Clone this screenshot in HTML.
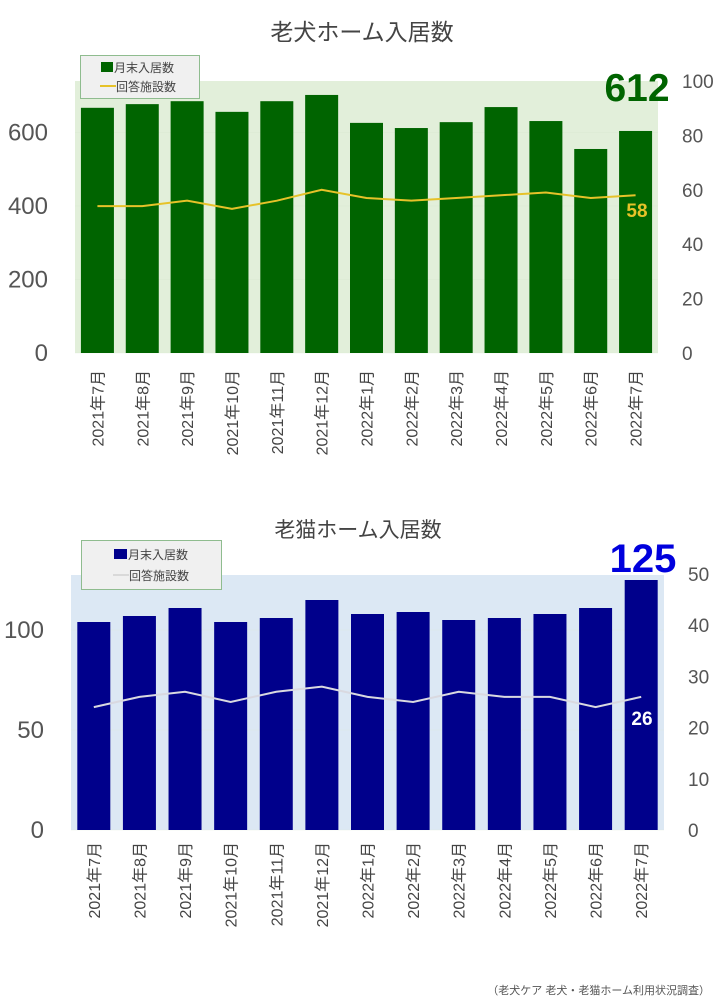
<!DOCTYPE html>
<html><head><meta charset="utf-8"><style>
body{margin:0;background:#fff;}
svg{display:block;font-family:"Liberation Sans","Noto Sans CJK JP",sans-serif;}
</style></head><body>
<svg id="s" width="720" height="1005" xmlns="http://www.w3.org/2000/svg"></svg>
<script>
const s=document.getElementById('s');let h='';
const labels=['2021年7月','2021年8月','2021年9月','2021年10月','2021年11月','2021年12月','2022年1月','2022年2月','2022年3月','2022年4月','2022年5月','2022年6月','2022年7月'];
function chart(o){
 const {x0,x1,yt,yb,sc,rs,bars,line,bg,bc,lc,ticks,rticks}=o;
 const cw=(x1-x0)/13;
 h+=`<rect x="${x0}" y="${yt}" width="${x1-x0}" height="${yb-yt}" fill="${bg}"/>`;
 ticks.forEach(t=>{const y=yb-t*sc;h+=`<line x1="${x0}" x2="${x1}" y1="${y}" y2="${y}" stroke="#d8e4d0" stroke-width="0.6" opacity="0.5"/><text x="${x0-27}" y="${y+8}" font-size="24" fill="#555" text-anchor="end">${t}</text>`;});
 rticks.forEach(t=>{const y=yb-t*rs;h+=`<text x="${x1+24}" y="${y+7}" font-size="19" fill="#555">${t}</text>`;});
 bars.forEach((v,i)=>{const cx=x0+cw*(i+0.5);h+=`<rect x="${cx-16.5}" y="${yb-v*sc}" width="33" height="${v*sc}" fill="${bc}"/>`;
  h+=`<text transform="translate(${cx+6},${o.ly}) rotate(-90)" font-size="16" fill="#444" text-anchor="end">${labels[i]}</text>`;});
 let p=line.map((v,i)=>`${x0+cw*(i+0.5)},${yb-v*rs}`).join(' ');
 h+=`<polyline points="${p}" fill="none" stroke="${lc}" stroke-width="2"/>`;
}
h+=`<text x="362" y="40" font-size="23" fill="#444" text-anchor="middle">老犬ホーム入居数</text>`;
chart({x0:75,x1:658,yt:81,yb:353,sc:0.3676,rs:2.72,bg:'#e2efda',bc:'#006400',lc:'#e6c229',
 bars:[667,677,685,656,685,702,626,612,628,669,631,555,604],
 line:[54,54,56,53,56,60,57,56,57,58,59,57,58],ticks:[0,200,400,600],rticks:[0,20,40,60,80,100],ly:370});
h+=`<rect x="80.5" y="55.5" width="119" height="43" fill="#f0f0f0" stroke="#8fbc8f"/>
<rect x="101" y="62" width="12" height="10" fill="#006400"/><text x="114" y="72" font-size="12" fill="#444">月末入居数</text>
<line x1="100" x2="116" y1="86" y2="86" stroke="#e6c229" stroke-width="2"/><text x="116" y="91" font-size="12" fill="#444">回答施設数</text>
<text x="637" y="101" font-size="39" font-weight="bold" fill="#006400" text-anchor="middle">612</text>
<text x="637" y="217" font-size="19" font-weight="bold" fill="#e6c229" text-anchor="middle">58</text>`;
h+=`<text x="358" y="537" font-size="21" fill="#444" text-anchor="middle">老猫ホーム入居数</text>`;
chart({x0:71,x1:664,yt:575,yb:830,sc:2.0,rs:5.12,bg:'#dce8f4',bc:'#00008b',lc:'#d9d9e0',
 bars:[104,107,111,104,106,115,108,109,105,106,108,111,125],
 line:[24,26,27,25,27,28,26,25,27,26,26,24,26],ticks:[0,50,100],rticks:[0,10,20,30,40,50],ly:842});
h+=`<rect x="81.5" y="540.5" width="140" height="49" fill="#f0f0f0" stroke="#8fbc8f"/>
<rect x="114" y="549" width="13" height="10" fill="#00008b"/><text x="128" y="559" font-size="12" fill="#444">月末入居数</text>
<line x1="113" x2="129" y1="575" y2="575" stroke="#d9d9d9" stroke-width="2"/><text x="129" y="580" font-size="12" fill="#444">回答施設数</text>
<text x="643" y="572" font-size="40" font-weight="bold" fill="#0000dd" text-anchor="middle">125</text>
<text x="642" y="725" font-size="19" font-weight="bold" fill="#fff" text-anchor="middle">26</text>
<text x="710" y="994" font-size="11" fill="#555" text-anchor="end">（老犬ケア 老犬・老猫ホーム利用状況調査）</text>`;
s.innerHTML=h;
</script>
</body></html>
